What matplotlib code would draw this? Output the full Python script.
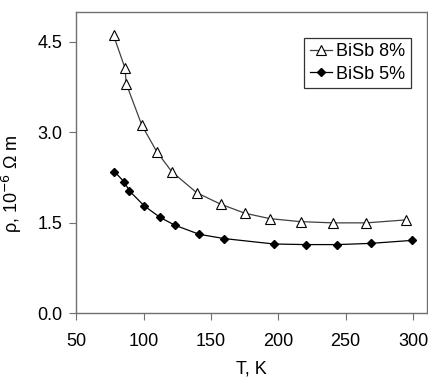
import matplotlib
matplotlib.use('Agg')
import matplotlib.pyplot as plt

plt.rcParams['font.family'] = ['Liberation Sans', 'DejaVu Sans']

# BiSb 8% (open triangles)
t_8 = [77.7, 86.3, 87.1, 98.7, 109.8, 120.9, 139.4, 157.2, 175.2, 193.8, 216.7, 240.7, 265.4, 295.1]
rho_8 = [4.61, 4.06, 3.81, 3.12, 2.68, 2.35, 2.00, 1.81, 1.66, 1.57, 1.52, 1.50, 1.50, 1.55]

# BiSb 5% (filled diamonds)
t_5 = [78.4, 85.6, 89.5, 100.6, 112.3, 123.4, 141.4, 159.7, 196.7, 220.2, 243.9, 268.6, 299.5]
rho_5 = [2.35, 2.18, 2.03, 1.78, 1.59, 1.46, 1.31, 1.24, 1.15, 1.14, 1.14, 1.16, 1.21]

xticks = [50, 100, 150, 200, 250, 300]
yticks = [0.0, 1.5, 3.0, 4.5]

fig = plt.figure(figsize=(4.28, 3.78), dpi=100)
ax = fig.add_axes([0.178, 0.171, 0.8185, 0.798])

ax.plot(t_8, rho_8, color='#404040', lw=0.9, marker='^', ms=6.5,
        mfc='white', mec='black', mew=0.8, label='BiSb 8%')
ax.plot(t_5, rho_5, color='black', lw=0.9, marker='D', ms=4.5,
        mfc='black', mec='black', label='BiSb 5%')

ax.set_xlim(50, 310)
ax.set_ylim(0, 5.0)
ax.set_xticks(xticks)
ax.set_yticks(yticks)
ax.set_yticklabels(['%.1f' % v for v in yticks])

for s in ax.spines.values():
    s.set_color('#707070')
    s.set_linewidth(1.0)
ax.tick_params(direction='out', length=5, color='#707070', labelsize=13)
ax.tick_params(axis='x', pad=9)
ax.tick_params(axis='y', pad=5)

ax.set_xlabel('T, K', fontsize=13, labelpad=8)
ax.set_ylabel(r'ρ, 10$^{-6}$ Ω m', fontsize=13)
ax.yaxis.set_label_coords(-0.15, 0.43)

leg = ax.legend(loc='upper right', bbox_to_anchor=(0.965, 0.925), fontsize=13,
                frameon=True, fancybox=False, handlelength=1.2, handletextpad=0.25,
                borderpad=0.3, labelspacing=0.3, borderaxespad=0.2)
leg.get_frame().set_edgecolor('black')
leg.get_frame().set_linewidth(0.9)

fig.savefig('out.png', dpi=100)
